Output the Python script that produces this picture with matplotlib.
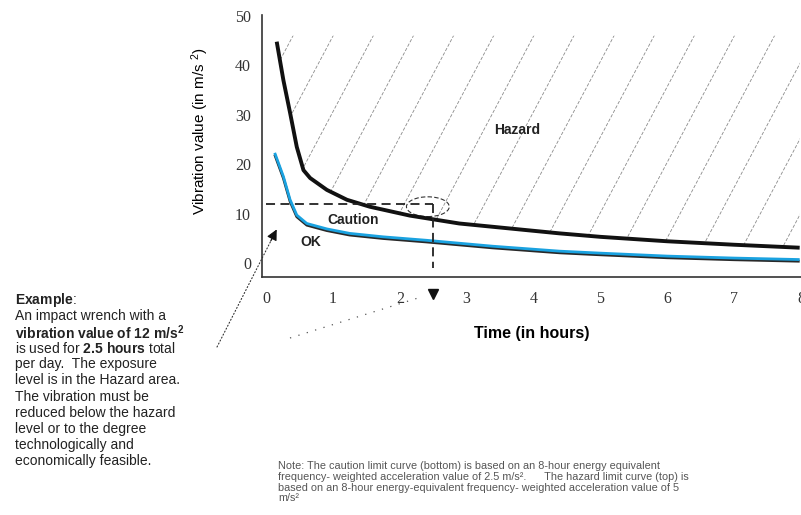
import numpy as np
import matplotlib
matplotlib.use("Agg")
import matplotlib.pyplot as plt
import matplotlib.patheffects as pe
from matplotlib.patches import Ellipse

plt.rcParams['font.family'] = ['Liberation Sans', 'DejaVu Sans']
plt.rcParams['mathtext.fontset'] = 'custom'
plt.rcParams['mathtext.rm'] = 'Liberation Sans'
plt.rcParams['mathtext.bf'] = 'Liberation Sans:bold'
plt.rcParams['mathtext.it'] = 'Liberation Sans:italic'

# hazard limit curve (top)
hazard_t = [0.16, 0.26, 0.36, 0.46, 0.56, 0.66, 0.91, 1.21, 1.55, 2.15, 2.89, 3.64, 4.39, 5.0, 6.0, 7.0, 7.98]
hazard_v = [44.8, 37.0, 30.4, 23.5, 18.8, 17.2, 14.8, 12.8, 11.4, 9.6, 8.0, 7.0, 6.0, 5.3, 4.4, 3.7, 3.1]

# caution limit curve (bottom)
caution_t = [0.13, 0.26, 0.36, 0.46, 0.61, 0.91, 1.25, 1.75, 2.4, 3.39, 4.39, 5.0, 6.0, 7.0, 7.98]
caution_v = [22.3, 17.5, 12.8, 9.7, 8.0, 6.9, 6.0, 5.3, 4.6, 3.4, 2.4, 2.0, 1.4, 1.0, 0.7]

# worked example
example_value = 12
example_hours = 2.5

x_ticks = [0, 1, 2, 3, 4, 5, 6, 7, 8]
y_ticks = [0, 10, 20, 30, 40, 50]

W, H = 801, 515
fig = plt.figure(figsize=(W / 100, H / 100), dpi=100)
ax = fig.add_axes([262 / W, 1 - 277 / H, 539 / W, 262 / H])
ax.set_xlim(-0.06, 7.98)
ax.set_ylim(-2.83, 50.2)

for s in ['top', 'right']:
    ax.spines[s].set_visible(False)
for s in ['left', 'bottom']:
    ax.spines[s].set_color('#333333')
    ax.spines[s].set_linewidth(1.2)

ax.set_xticks(x_ticks)
ax.set_yticks(y_ticks)
ax.tick_params(length=0, labelsize=11.5, labelcolor='#333333')
ax.tick_params(axis='x', pad=10)
ax.tick_params(axis='y', pad=8)
for lab in ax.get_xticklabels() + ax.get_yticklabels():
    lab.set_family('Liberation Serif')

ax.set_xlabel('Time (in hours)', fontsize=11.5, fontweight='bold', labelpad=14)
ax.set_ylabel('Vibration value (in m/s $^{2}$)', fontsize=11)
ax.yaxis.set_label_coords(-0.095, 0.557)

# hatched hazard area above the top curve
region = ax.fill_between(hazard_t, hazard_v, 46, color='none', lw=0)
clip = region.get_paths()[0]
slope = 25.5
for t0 in np.arange(-2.0, 8.6, 0.6):
    ln, = ax.plot([t0, t0 + 50 / slope], [0, 50], color='#8a8a8a', lw=0.6,
                  linestyle=(0, (4, 2)))
    ln.set_clip_path(clip, ax.transData)

ax.plot(hazard_t, hazard_v, color='#111111', lw=2.8, solid_capstyle='butt')
ax.plot(caution_t, caution_v, color='#1aa2e0', lw=2.0, solid_capstyle='butt',
        path_effects=[pe.SimpleLineShadow(offset=(0, -1.2), shadow_color='#111111', alpha=0.9),
                      pe.Normal()])

# example lines
ax.plot([0, example_hours], [example_value, example_value], color='#222222', lw=1.3,
        linestyle=(0, (5, 3)))
ax.plot([example_hours, example_hours], [example_value, -1.0], color='#222222', lw=1.3,
        linestyle=(0, (5, 3)))
ax.add_patch(Ellipse((2.42, 11.4), 0.64, 4.0, fill=False, ec='#333333', lw=0.8,
                     linestyle=(0, (4, 2))))
ax.plot([example_hours], [-6.3], marker='v', ms=7, color='#111111', clip_on=False)

ax.text(3.75, 26.9, 'Hazard', fontsize=10, fontweight='bold', color='#222222',
        ha='center', va='center')
ax.text(1.31, 8.7, 'Caution', fontsize=10, fontweight='bold', color='#222222',
        ha='center', va='center')
ax.text(0.67, 4.2, 'OK', fontsize=10, fontweight='bold', color='#222222',
        ha='center', va='center')

# dotted pointer from the example text, with a solid head
tip = (0.16, 6.8)
ax.annotate('', xy=tip, xycoords='data',
            xytext=(217 / W, 1 - 347 / H), textcoords='figure fraction',
            arrowprops=dict(arrowstyle='-', linestyle=(0, (1, 2)), lw=0.8,
                            color='#333333', shrinkA=0, shrinkB=6),
            annotation_clip=False)
ax.annotate('', xy=tip, xycoords='data',
            xytext=(-4.3, -8.3), textcoords='offset points',
            arrowprops=dict(arrowstyle='-|>', lw=0.8, color='#111111',
                            mutation_scale=16, shrinkA=0, shrinkB=0),
            annotation_clip=False)
fig.add_artist(plt.Line2D([290 / W, 418 / W], [1 - 338 / H, 1 - 298 / H],
                          color='#555555', lw=0.9, linestyle=(0, (1, 6))))

example_lines = [
    r'$\mathbf{Example}$:',
    'An impact wrench with a',
    r'$\mathbf{vibration\ value\ of\ 12\ m/s^2}$',
    r'is used for $\mathbf{2.5\ hours}$ total',
    'per day.  The exposure',
    'level is in the Hazard area.',
    'The vibration must be',
    'reduced below the hazard',
    'level or to the degree',
    'technologically and',
    'economically feasible.',
]
for i, line in enumerate(example_lines):
    fig.text(15 / W, 1 - (300 + i * 16.1) / H, line, fontsize=10, color='#222222',
             ha='left', va='center')

note_lines = [
    'Note: The caution limit curve (bottom) is based on an 8-hour energy equivalent',
    'frequency- weighted acceleration value of 2.5 m/s\u00b2.      The hazard limit curve (top) is',
    'based on an 8-hour energy-equivalent frequency- weighted acceleration value of 5',
    'm/s\u00b2',
]
for i, line in enumerate(note_lines):
    fig.text(278 / W, 1 - (466 + i * 10.8) / H, line, fontsize=7.8, color='#555555',
             ha='left', va='center')

fig.savefig('out.png', dpi=100)
